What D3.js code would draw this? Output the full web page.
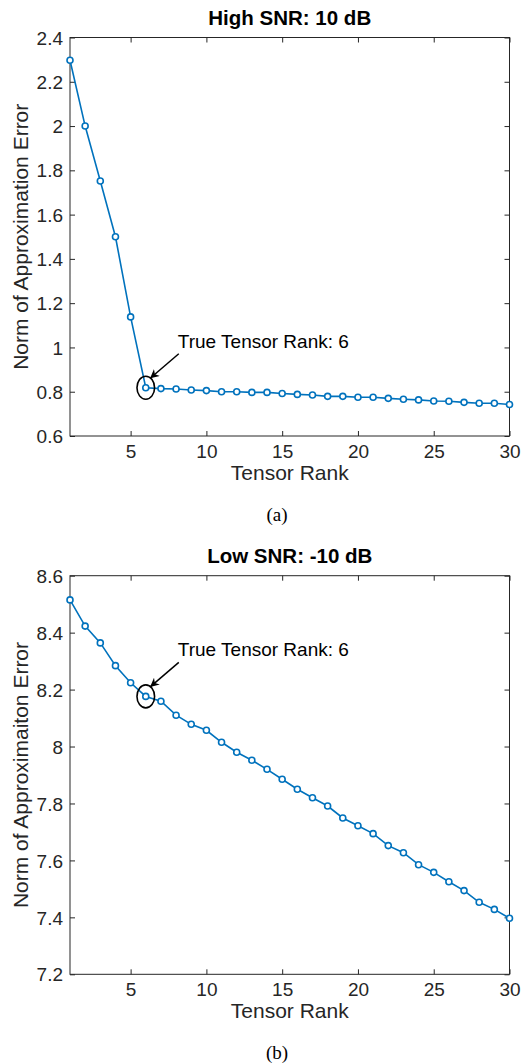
<!DOCTYPE html>
<html>
<head>
<meta charset="utf-8">
<script src="https://cdn.jsdelivr.net/npm/d3@7"></script>
<style>
  html, body { margin: 0; padding: 0; background: #fff; }
  svg { display: block; }
</style>
</head>
<body>
<svg id="chart" width="531" height="1063"></svg>
<script>
// ---------- data ----------
const ranks = d3.range(1, 31);
const highSNR = [2.297, 2.000, 1.752, 1.500, 1.138, 0.818, 0.814, 0.812, 0.808, 0.805,
                 0.800, 0.800, 0.797, 0.797, 0.792, 0.788, 0.785, 0.779, 0.779, 0.775,
                 0.775, 0.770, 0.766, 0.763, 0.758, 0.757, 0.752, 0.748, 0.748, 0.742];
const lowSNR = [8.515, 8.423, 8.364, 8.284, 8.224, 8.176, 8.159, 8.110, 8.078, 8.057,
                8.015, 7.980, 7.952, 7.920, 7.885, 7.850, 7.820, 7.791, 7.749, 7.722,
                7.694, 7.652, 7.627, 7.585, 7.558, 7.525, 7.494, 7.453, 7.428, 7.397];
const xTicks = [5, 10, 15, 20, 25, 30];
const highTicks = [0.6, 0.8, 1, 1.2, 1.4, 1.6, 1.8, 2, 2.2, 2.4];
const lowTicks = [7.2, 7.4, 7.6, 7.8, 8, 8.2, 8.4, 8.6];
const trueRank = 6;

const panels = [
  { title: "High SNR: 10 dB", ylabel: "Norm of Approximation Error", values: highSNR,
    yDomain: [0.6, 2.4], yTicks: highTicks, top: 37.5, bottom: 436, caption: "(a)", captionY: 521 },
  { title: "Low SNR: -10 dB", ylabel: "Norm of Approximaiton Error", values: lowSNR,
    yDomain: [7.2, 8.6], yTicks: lowTicks, top: 575.7, bottom: 974.3, caption: "(b)", captionY: 1059 }
];

const svg = d3.select("#chart");
const left = 70, right = 509.5;
const axisColor = "#262626";
const lineColor = "#0072BD";
const font = "'Liberation Sans', Arial, Helvetica, sans-serif";
const tickLen = 5;

svg.append("defs").append("marker")
  .attr("id", "arrowhead")
  .attr("viewBox", "0 0 10 10")
  .attr("refX", 9).attr("refY", 5)
  .attr("markerWidth", 9).attr("markerHeight", 9)
  .attr("markerUnits", "userSpaceOnUse")
  .attr("orient", "auto")
  .append("path")
  .attr("d", "M0,0 L10,5 L0,10 L3,5 Z")
  .attr("fill", "#000");

panels.forEach(p => {
  const x = d3.scaleLinear().domain([1, 30]).range([left, right]);
  const y = d3.scaleLinear().domain(p.yDomain).range([p.bottom, p.top]);
  const g = svg.append("g");

  // box
  g.append("rect")
    .attr("x", left).attr("y", p.top)
    .attr("width", right - left).attr("height", p.bottom - p.top)
    .attr("fill", "none").attr("stroke", axisColor).attr("stroke-width", 1);

  // axes (inward ticks)
  const fmt = d => d3.format("~g")(d);
  const axB = g.append("g").attr("transform", `translate(0,${p.bottom})`)
    .call(d3.axisBottom(x).tickValues(xTicks).tickSizeInner(-tickLen).tickSizeOuter(0).tickPadding(12).tickFormat(fmt));
  const axT = g.append("g").attr("transform", `translate(0,${p.top})`)
    .call(d3.axisTop(x).tickValues(xTicks).tickSizeInner(-tickLen).tickSizeOuter(0).tickFormat(""));
  const axL = g.append("g").attr("transform", `translate(${left},0)`)
    .call(d3.axisLeft(y).tickValues(p.yTicks).tickSizeInner(-tickLen).tickSizeOuter(0).tickPadding(12).tickFormat(fmt));
  const axR = g.append("g").attr("transform", `translate(${right},0)`)
    .call(d3.axisRight(y).tickValues(p.yTicks).tickSizeInner(-tickLen).tickSizeOuter(0).tickFormat(""));
  [axB, axT, axL, axR].forEach(a => {
    a.select(".domain").remove();
    a.selectAll(".tick line").attr("stroke", axisColor);
    a.selectAll("text").attr("fill", axisColor).style("font-family", font).style("font-size", "19px");
  });
  axB.selectAll("text").attr("dy", null).attr("y", 22);
  axL.selectAll("text").attr("dy", "0.35em").attr("x", -7);

  // labels
  g.append("text")
    .attr("x", (left + right) / 2).attr("y", p.top - 12.5)
    .attr("text-anchor", "middle")
    .style("font-family", font).style("font-size", "20.5px").style("font-weight", "bold")
    .attr("fill", "#000").text(p.title);
  g.append("text")
    .attr("x", (left + right) / 2).attr("y", p.bottom + 43.5)
    .attr("text-anchor", "middle")
    .style("font-family", font).style("font-size", "21px")
    .attr("fill", axisColor).text("Tensor Rank");
  g.append("text")
    .attr("transform", `translate(28,${(p.top + p.bottom) / 2}) rotate(-90)`)
    .attr("text-anchor", "middle")
    .style("font-family", font).style("font-size", "21px")
    .attr("fill", axisColor).text(p.ylabel);

  // line
  const data = ranks.map((r, i) => ({ r, v: p.values[i] }));
  g.append("path").datum(data)
    .attr("fill", "none").attr("stroke", lineColor).attr("stroke-width", 1.6)
    .attr("d", d3.line().x(d => x(d.r)).y(d => y(d.v)));
  g.selectAll("circle.pt").data(data).join("circle")
    .attr("class", "pt")
    .attr("cx", d => x(d.r)).attr("cy", d => y(d.v)).attr("r", 3)
    .attr("fill", "#fff").attr("stroke", lineColor).attr("stroke-width", 1.6);

  // annotation
  const cx = x(trueRank), cy = y(p.values[trueRank - 1]);
  g.append("ellipse")
    .attr("cx", cx).attr("cy", cy).attr("rx", 8.8).attr("ry", 11.5)
    .attr("fill", "none").attr("stroke", "#000").attr("stroke-width", 1.6);
  g.append("line")
    .attr("x1", cx + 33).attr("y1", cy - 34)
    .attr("x2", cx + 5).attr("y2", cy - 10)
    .attr("stroke", "#000").attr("stroke-width", 1.5)
    .attr("marker-end", "url(#arrowhead)");
  g.append("text")
    .attr("x", cx + 32).attr("y", cy - 40)
    .style("font-family", font).style("font-size", "19px")
    .attr("fill", "#000").text("True Tensor Rank: " + trueRank);

  // caption
  g.append("text")
    .attr("x", 277).attr("y", p.captionY)
    .attr("text-anchor", "middle")
    .style("font-family", "'Liberation Serif', 'Times New Roman', serif").style("font-size", "19px")
    .attr("fill", "#000").text(p.caption);
});
</script>
</body>
</html>
